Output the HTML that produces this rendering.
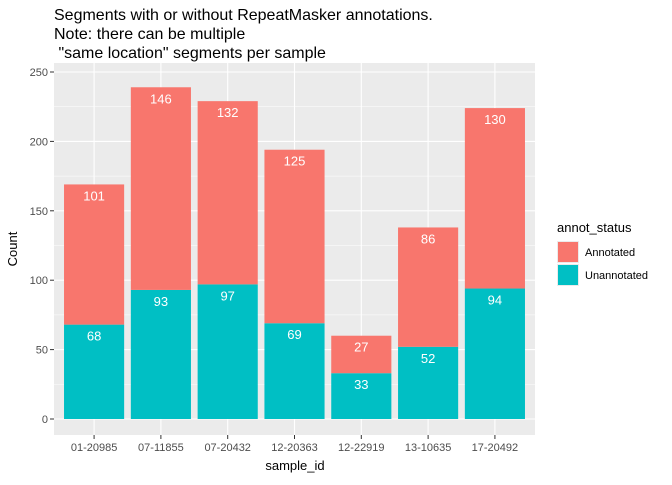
<!DOCTYPE html>
<html><head><meta charset="utf-8"><style>
body{margin:0;background:#fff;}
svg{font-family:"Liberation Sans",sans-serif;}
</style></head><body>
<svg id="chart" width="672" height="480">
<text x="54" y="20" font-size="16" fill="#000">Segments with or without RepeatMasker annotations.</text>
<text x="54" y="39" font-size="16" fill="#000">Note: there can be multiple</text>
<text x="54" y="58" font-size="16" fill="#000" xml:space="preserve"> "same location" segments per sample</text>
<rect x="54" y="63" width="481" height="372" fill="#ebebeb"/>
<g id="grid"></g><g id="bars"></g><g id="axes"></g>
<text x="295" y="470" font-size="13" text-anchor="middle">sample_id</text>
<text transform="translate(17,249) rotate(-90)" font-size="13" text-anchor="middle">Count</text>
<g>
<text x="557" y="232" font-size="13">annot_status</text>
<rect x="557" y="241" width="22" height="22" fill="#ebebeb"/>
<rect x="558" y="242" width="20" height="20" fill="#F8766D"/>
<text x="585" y="256" font-size="11" fill="#000">Annotated</text>
<rect x="557" y="264" width="22" height="22" fill="#ebebeb"/>
<rect x="558" y="265" width="20" height="20" fill="#00BFC4"/>
<text x="585" y="279" font-size="11" fill="#000">Unannotated</text>
</g>
</svg>
<script>
const categories=["01-20985","07-11855","07-20432","12-20363","12-22919","13-10635","17-20492"];
const unannotated=[68,93,97,69,33,52,94];
const annotated=[101,146,132,125,27,86,130];
const yTicks=[0,50,100,150,200,250];
const NS="http://www.w3.org/2000/svg";
const y=v=>419-v*1.388;
const step=481/7.2;
const x=i=>54+(0.6+i)*step;
const bw=step*0.9;
function mk(tag,attrs,parent){const e=document.createElementNS(NS,tag);for(const k in attrs)e.setAttribute(k,attrs[k]);document.getElementById(parent).appendChild(e);return e;}
yTicks.forEach((t,i)=>{
  if(i<yTicks.length-1){const m=mk('line',{x1:54,x2:535,y1:y(t+25),y2:y(t+25),stroke:'#fff','stroke-width':0.5},'grid');
  
  }
  const g=mk('line',{x1:54,x2:535,y1:y(t),y2:y(t),stroke:'#fff','stroke-width':1.1},'grid');
  
  
  const tk=mk('line',{x1:50,x2:54,y1:y(t),y2:y(t),stroke:'#333','stroke-width':1},'axes');
  
  
  const lb=mk('text',{x:48,y:y(t)+4,'font-size':11,fill:'#4d4d4d','text-anchor':'end'},'axes');
  lb.textContent=t;
  
  
});
categories.forEach((c,i)=>{
  const cx=x(i);
  const g=mk('line',{x1:cx,x2:cx,y1:63,y2:435,stroke:'#fff','stroke-width':1.1},'grid');
  
  
  const u=unannotated[i],a=annotated[i];
  const r1=mk('rect',{x:cx-bw/2,y:y(u),width:bw,height:y(0)-y(u),fill:'#00BFC4'},'bars');
  
  
  const r2=mk('rect',{x:cx-bw/2,y:y(u+a),width:bw,height:y(u)-y(u+a),fill:'#F8766D'},'bars');
  
  
  const t1=mk('text',{x:cx,y:y(u)+16,'font-size':13,fill:'#fff','text-anchor':'middle'},'bars');
  t1.textContent=u;
  
  
  const t2=mk('text',{x:cx,y:y(u+a)+16,'font-size':13,fill:'#fff','text-anchor':'middle'},'bars');
  t2.textContent=a;
  
  
  const tk=mk('line',{x1:cx,x2:cx,y1:435,y2:439,stroke:'#333','stroke-width':1},'axes');
  
  
  const lb=mk('text',{x:cx,y:451,'font-size':11,fill:'#4d4d4d','text-anchor':'middle'},'axes');
  lb.textContent=c;
  
  
});
</script>
</body></html>
